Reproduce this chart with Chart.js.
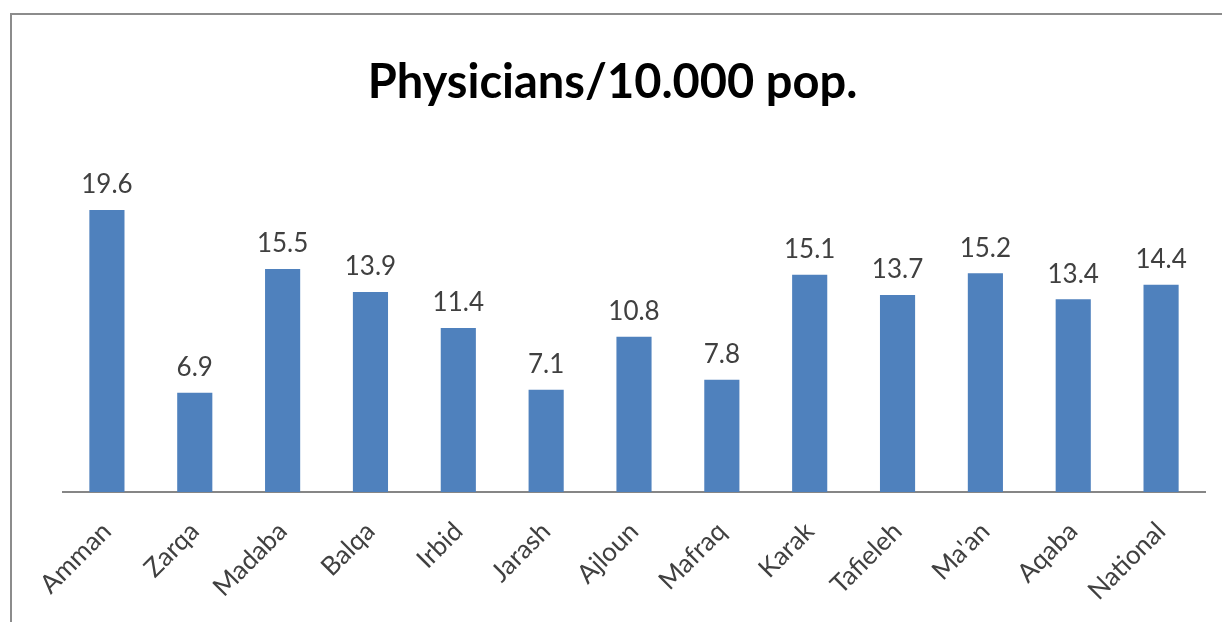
<!DOCTYPE html>
<html>
<head>
<meta charset="utf-8">
<script src="https://cdn.jsdelivr.net/npm/chart.js@4/dist/chart.umd.min.js"></script>
<style>
  html, body { margin: 0; padding: 0; background: #fff; }
  #wrap { position: relative; width: 1222px; height: 622px; }
</style>
</head>
<body>
<div id="wrap"><canvas id="physChart"></canvas></div>
<script>
// Physicians per 10,000 population by governorate
const governorates = ['Amman', 'Zarqa', 'Madaba', 'Balqa', 'Irbid', 'Jarash', 'Ajloun',
                      'Mafraq', 'Karak', 'Tafieleh', "Ma'an", 'Aqaba', 'National'];
const physiciansPer10k = [19.6, 6.9, 15.5, 13.9, 11.4, 7.1, 10.8, 7.8, 15.1, 13.7, 15.2, 13.4, 14.4];
const yMin = 0;
const yMax = 25;

const barBlue = '#4F81BD';
const textGray = '#404040';

// outer frame like the office chart border
const framePlugin = {
    id: 'frame',
    beforeDraw(chart) {
        const ctx = chart.ctx;
        ctx.save();
        ctx.strokeStyle = '#8c8c8c';
        ctx.lineWidth = 2;
        ctx.strokeRect(11, 14, chart.width + 20, chart.height + 20);
        ctx.restore();
    }
};

// value labels above bars
const valueLabels = {
    id: 'valueLabels',
    afterDatasetsDraw(chart) {
        const ctx = chart.ctx;
        const meta = chart.getDatasetMeta(0);
        ctx.save();
        ctx.font = '26px Lato';
        ctx.fillStyle = textGray;
        ctx.textAlign = 'center';
        ctx.textBaseline = 'bottom';
        meta.data.forEach((bar, i) => {
            ctx.fillText(physiciansPer10k[i].toFixed(1), bar.x, bar.y - 12);
        });
        ctx.restore();
    }
};

new Chart(document.getElementById('physChart'), {
    type: 'bar',
    data: {
        labels: governorates,
        datasets: [{
            label: 'Physicians/10.000 pop.',
            data: physiciansPer10k,
            backgroundColor: barBlue,
            borderWidth: 0,
            categoryPercentage: 1.0,
            barPercentage: 0.4
        }]
    },
    options: {
        responsive: true,
        maintainAspectRatio: false,
        animation: false,
        layout: { padding: { left: 20, right: 17, top: 0, bottom: 0 } },
        scales: {
            x: {
                grid: { display: false, drawTicks: false },
                border: { display: true, color: '#868686', width: 2 },
                ticks: {
                    color: textGray,
                    font: { family: 'Lato', size: 26 },
                    minRotation: 45,
                    maxRotation: 45,
                    padding: 24,
                    autoSkip: false
                },
                afterFit: (scale) => { scale.height = 130; }
            },
            y: {
                min: yMin,
                max: yMax,
                grid: { display: false, drawTicks: false },
                border: { display: false },
                ticks: { display: false },
                afterFit: (scale) => { scale.width = 43; }
            }
        },
        plugins: {
            legend: { display: false },
            tooltip: { enabled: false },
            title: {
                display: true,
                text: 'Physicians/10.000 pop.',
                color: '#000',
                font: { family: 'Lato', size: 47, weight: 'bold' },
                padding: { top: 55, bottom: 21 }
            }
        }
    },
    plugins: [framePlugin, valueLabels]
});
</script>
</body>
</html>
